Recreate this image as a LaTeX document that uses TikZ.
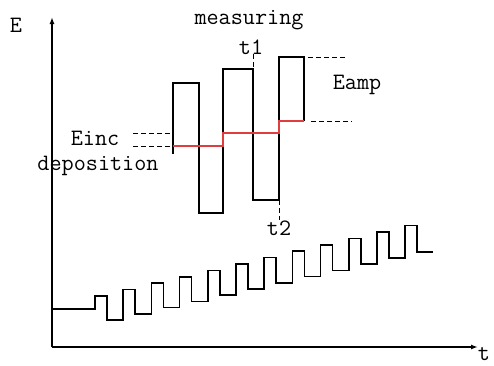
\documentclass[tikz,border=0pt]{standalone}
\usepackage{fontspec}
\usepackage{xcolor}
\usepackage{tikz}
\usetikzlibrary{arrows.meta}
\definecolor{depoRed}{RGB}{222,62,62}

\begin{document}
\begin{tikzpicture}[x=1pt, y=-1pt,
    wave/.style={line width=1.5pt, line join=miter},
    axis/.style={line width=1.4pt, -{Latex[length=7pt,width=5pt]}},
    lbl/.style={font=\ttfamily\fontsize{23.5}{25}\selectfont, inner sep=0pt},
    guide/.style={line width=1pt, dash pattern=on 5pt off 3pt}]
    \useasboundingbox (0,0) rectangle (494,365);
    % axes
    \coordinate (origin) at (52,347);
    \draw[axis] (origin) -- (52,17);
    \draw[axis] (origin) -- (478,347);
    \node[lbl] (Elbl) at (16,25) {E};
    \node[lbl] (tlbl) at (484,354) {t};
    % modulated wave (bottom)
    \draw[wave] (52,309) -- (95,309)
        \foreach \i in {0,...,11} {
            -- ({95+28.2*\i},{296-6.4*\i}) -- ({107+28.2*\i},{296-6.4*\i})
            -- ({107+28.2*\i},{320-6.2*\i}) -- ({123.2+28.2*\i},{320-6.2*\i})
        };
    % zoomed pulses
    \draw[wave] (173,154) -- (173,83) -- (199,83) -- (199,213) -- (223,213)
        -- (223,69) -- (253,69) -- (253,200) -- (279,200) -- (279,57)
        -- (304,57) -- (304,121);
    \draw[depoRed, line width=1.6pt] (173,146) -- (223,146) -- (223,133)
        -- (279,133) -- (279,121) -- (304,121);
    % labels
    \node[lbl] (measuring) at (249,20) {measuring};
    \node[lbl] (t1) at (251,47) {t1};
    \node[lbl] (t2) at (279,228) {t2};
    \node[lbl] (Eamp) at (357,85) {Eamp};
    \node[lbl, anchor=base] (Einc) at (95,145) {Einc};
    \node[lbl, anchor=base] (depo) at (98,170) {deposition};
    % guide lines
    \coordinate (incA) at (173,133);
    \coordinate (incB) at (173,146);
    \coordinate (ampA) at (304,57);
    \coordinate (ampB) at (304,121);
    \draw[guide] (133,133) -- (incA);
    \draw[guide] (133,146) -- (incB);
    \draw[guide] ([xshift=4pt]ampA) -- (347,57);
    \draw[guide] ([xshift=7pt]ampB) -- (352,121);
    \draw[guide] (253,54) -- (253,69);
    \draw[guide] (279,200) -- (t2.north -| 279,0);
\end{tikzpicture}
\end{document}
